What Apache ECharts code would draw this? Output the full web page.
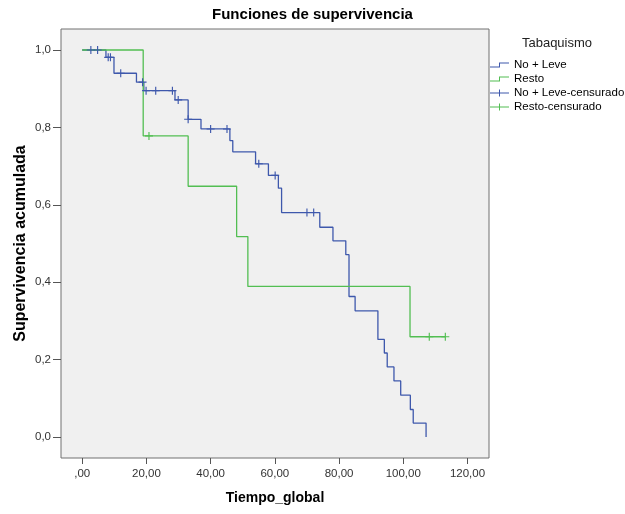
<!DOCTYPE html>
<html>
<head>
<meta charset="utf-8">
<script src="https://cdn.jsdelivr.net/npm/echarts@6/dist/echarts.min.js"></script>
<style>
  html, body { margin: 0; padding: 0; background: #ffffff; }
  #chart { width: 625px; height: 514px; }
</style>
</head>
<body>
<div id="chart"></div>
<script>
// Kaplan-Meier estimates: event times and cumulative survival after each event
const noLeveTime = [0, 7.4, 9.9, 16.9, 19.2, 28.9, 33.0, 37.0, 46.0, 46.9, 54.0, 58.0, 61.1, 62.1, 74.0, 78.1, 82.1, 83.1, 85.0, 92.1, 94.1, 95.0, 97.1, 99.2, 102.2, 103.1, 107.1];
const noLeveSurv = [1.0, 0.981, 0.940, 0.917, 0.895, 0.871, 0.821, 0.796, 0.766, 0.737, 0.706, 0.676, 0.643, 0.580, 0.542, 0.507, 0.471, 0.363, 0.326, 0.252, 0.217, 0.181, 0.145, 0.108, 0.071, 0.036, 0.0];

const restoTime = [0, 19.0, 33.0, 48.1, 51.6, 102.1, 113.1];
const restoSurv = [1.0, 0.778, 0.648, 0.518, 0.389, 0.259, 0.259];

// Censored observations
const noLeveCensTime = [2.7, 4.8, 8.1, 8.8, 12.0, 18.8, 19.9, 22.9, 28.1, 29.9, 33.0, 40.0, 45.1, 55.0, 60.1, 70.0, 72.1];
const noLeveCensSurv = [1.0, 1.0, 0.981, 0.981, 0.940, 0.917, 0.895, 0.895, 0.895, 0.871, 0.821, 0.796, 0.796, 0.706, 0.676, 0.580, 0.580];

const restoCensTime = [20.8, 108.1, 113.1];
const restoCensSurv = [0.778, 0.259, 0.259];

// Axis ticks and their labels
const xTicks = [0, 20, 40, 60, 80, 100, 120];
const xTickLabels = [',00', '20,00', '40,00', '60,00', '80,00', '100,00', '120,00'];
const yTicks = [0, 0.2, 0.4, 0.6, 0.8, 1.0];
const yTickLabels = ['0,0', '0,2', '0,4', '0,6', '0,8', '1,0'];

const seriesNames = ['No + Leve', 'Resto', 'No + Leve-censurado', 'Resto-censurado'];

const BLUE = '#3E58AC';
const GREEN = '#52BE52';

const zip = (a, b) => a.map((v, i) => [v, b[i]]);
const labelFor = (ticks, labels) => v => {
  const i = ticks.findIndex(t => Math.abs(t - v) < 1e-6);
  return i >= 0 ? labels[i] : '';
};

const plusSymbol = 'path://M3,0 L4,0 L4,3 L7,3 L7,4 L4,4 L4,7 L3,7 L3,4 L0,4 L0,3 L3,3 Z';
const stepIcon = 'path://M0,4 L9,4 L9,0 L19,0 L19,1 L10,1 L10,5 L0,5 Z';
const censIcon = 'path://M0,3 L9,3 L9,0 L10,0 L10,3 L19,3 L19,4 L10,4 L10,7 L9,7 L9,4 L0,4 Z';

const chart = echarts.init(document.getElementById('chart'), null, { renderer: 'canvas' });

chart.setOption({
  animation: false,
  backgroundColor: '#ffffff',
  textStyle: { fontFamily: 'Liberation Sans, Arial, sans-serif' },
  title: {
    text: 'Funciones de supervivencia',
    left: 'center',
    top: 7,
    padding: 0,
    textStyle: { fontSize: 15, fontWeight: 'bold', color: '#000000' }
  },
  graphic: [{
    type: 'text',
    x: 557,
    y: 43,
    style: {
      text: 'Tabaquismo',
      fontSize: 13,
      fontFamily: 'Liberation Sans, Arial, sans-serif',
      fill: '#222222',
      align: 'center',
      verticalAlign: 'middle'
    }
  }],
  legend: {
    orient: 'vertical',
    left: 490,
    top: 59,
    padding: 0,
    itemWidth: 19,
    itemHeight: 10,
    itemGap: 2,
    selectedMode: false,
    textStyle: { fontSize: 11.5, color: '#000000' },
    data: [
      { name: seriesNames[0], icon: stepIcon, itemStyle: { color: BLUE, borderWidth: 0 } },
      { name: seriesNames[1], icon: stepIcon, itemStyle: { color: GREEN, borderWidth: 0 } },
      { name: seriesNames[2], icon: censIcon, itemStyle: { color: BLUE, borderWidth: 0 } },
      { name: seriesNames[3], icon: censIcon, itemStyle: { color: GREEN, borderWidth: 0 } }
    ]
  },
  grid: {
    left: 61,
    top: 29,
    width: 428,
    height: 429,
    show: true,
    backgroundColor: '#F0F0F0',
    borderColor: '#707070',
    borderWidth: 1
  },
  xAxis: {
    type: 'value',
    min: -6.6,
    max: 126.7,
    name: 'Tiempo_global',
    nameLocation: 'middle',
    nameGap: 33,
    nameTextStyle: { fontSize: 14, fontWeight: 'bold', color: '#000000' },
    axisLine: { show: false, onZero: false },
    splitLine: { show: false },
    axisTick: { show: true, customValues: xTicks, length: 6, lineStyle: { color: '#555555' } },
    axisLabel: { customValues: xTicks, formatter: labelFor(xTicks, xTickLabels), fontSize: 11.5, color: '#333333', margin: 10 }
  },
  yAxis: {
    type: 'value',
    min: -0.0543,
    max: 1.0543,
    name: 'Supervivencia acumulada',
    nameLocation: 'middle',
    nameRotate: 90,
    nameGap: 32,
    nameMoveOverlap: false,
    nameTextStyle: { fontSize: 16, fontWeight: 'bold', color: '#000000' },
    axisLine: { show: false, onZero: false },
    splitLine: { show: false },
    axisTick: { show: true, customValues: yTicks, length: 8, lineStyle: { color: '#555555' } },
    axisLabel: { customValues: yTicks, formatter: labelFor(yTicks, yTickLabels), fontSize: 11.5, color: '#333333', margin: 10 }
  },
  series: [
    {
      name: seriesNames[0],
      type: 'line',
      step: 'end',
      symbol: 'none',
      data: zip(noLeveTime, noLeveSurv),
      lineStyle: { color: BLUE, width: 1.3 },
      itemStyle: { color: BLUE },
      silent: true,
      z: 2
    },
    {
      name: seriesNames[1],
      type: 'line',
      step: 'end',
      symbol: 'none',
      data: zip(restoTime, restoSurv),
      lineStyle: { color: GREEN, width: 1.3 },
      itemStyle: { color: GREEN },
      silent: true,
      z: 3
    },
    {
      name: seriesNames[2],
      type: 'scatter',
      symbol: plusSymbol,
      symbolSize: 8,
      data: zip(noLeveCensTime, noLeveCensSurv),
      itemStyle: { color: BLUE, opacity: 1 },
      silent: true,
      z: 4
    },
    {
      name: seriesNames[3],
      type: 'scatter',
      symbol: plusSymbol,
      symbolSize: 8,
      data: zip(restoCensTime, restoCensSurv),
      itemStyle: { color: GREEN, opacity: 1 },
      silent: true,
      z: 4
    }
  ]
});
</script>
</body>
</html>
